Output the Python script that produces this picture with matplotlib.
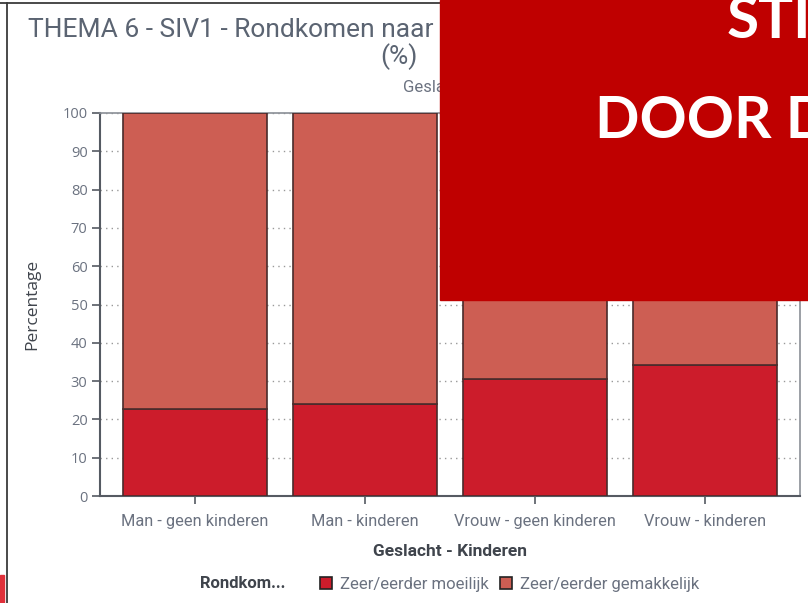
import matplotlib.pyplot as plt
from matplotlib.patches import Rectangle, Patch
import numpy as np

categories = ["Man - geen kinderen", "Man - kinderen", "Vrouw - geen kinderen", "Vrouw - kinderen"]
moeilijk = [22.7, 24.0, 30.6, 34.3]
gemakkelijk = [100 - v for v in moeilijk]
series_names = ["Zeer/eerder moeilijk", "Zeer/eerder gemakkelijk"]
yticks = list(range(0, 101, 10))

c_low = "#CC1C2B"
c_high = "#CD5E53"
edge = "#4a2b2b"
grey = "#6b7280"
dark = "#3f444c"

W, H = 808, 603
fig = plt.figure(figsize=(W / 100, H / 100), dpi=100)


def px(x, y):
    return x / W, 1 - y / H


ax = fig.add_axes([100 / W, 1 - 496 / H, 700 / W, 383 / H])
x = np.arange(len(categories))
ax.bar(x, moeilijk, width=0.847, color=c_low, edgecolor=edge, linewidth=1.2, zorder=3)
ax.bar(x, gemakkelijk, bottom=moeilijk, width=0.847, color=c_high, edgecolor=edge,
       linewidth=1.2, zorder=3)
ax.set_xlim(-0.559, 3.559)
ax.set_ylim(0, 100)
ax.set_yticks(yticks)
ax.yaxis.grid(True, linestyle=(0, (1, 3)), color="#999999", linewidth=1, zorder=0)
ax.set_xticks(x)
ax.set_xticklabels(categories, family="Roboto", fontsize=11.8, color=grey)
for lab in ax.get_yticklabels():
    lab.set_family("Open Sans")
    lab.set_fontsize(10.5)
    lab.set_color(grey)
ax.tick_params(axis="both", length=6, width=1.2, color="#555a62", pad=3)
ax.tick_params(axis="x", pad=7)
for s in ["top", "right"]:
    ax.spines[s].set_color("#8a8f96")
    ax.spines[s].set_linewidth(1.2)
for s in ["left", "bottom"]:
    ax.spines[s].set_color("#555a62")
    ax.spines[s].set_linewidth(1.5)
ax.set_ylabel("Percentage", family="Open Sans", fontsize=12.5, color=dark, labelpad=16)
ax.set_xlabel("Geslacht - Kinderen", family="Roboto", fontsize=12.5, fontweight="bold",
              color=dark, labelpad=11)

# title block
fig.text(*px(28, 30), "THEMA 6 - SIV1 - Rondkomen naar geslacht en kinderen",
         family="Roboto", fontsize=19, color="#5b6472", va="center", ha="left")
fig.text(*px(399, 57), "(%)", family="Roboto", fontsize=19, color="#5b6472",
         va="center", ha="center")
fig.text(*px(403, 87), "Geslacht - Kinderen", family="Roboto", fontsize=12,
         color=grey, va="center", ha="left")

# legend
handles = [Patch(facecolor=c_low, edgecolor="#222222", linewidth=1.2),
           Patch(facecolor=c_high, edgecolor="#222222", linewidth=1.2)]
fig.text(*px(200, 584), "Rondkom...", family="Roboto", fontsize=12,
         fontweight="bold", color=dark, va="center", ha="left")
leg = fig.legend(handles, series_names, loc="center left", bbox_to_anchor=px(305, 584),
                 frameon=False, ncol=2, handlelength=0.7, handleheight=0.7,
                 handletextpad=0.5, columnspacing=0.7,
                 prop={"family": "Roboto", "size": 12})
for t in leg.get_texts():
    t.set_color(grey)

# panel border lines
fig.add_artist(plt.Line2D([7 / W, 7 / W], [0, 1 - 3 / H], color="#3a3a3a", linewidth=1.3))
fig.add_artist(plt.Line2D([0, 1], [1 - 3 / H, 1 - 3 / H], color="#3a3a3a", linewidth=1.3))
fig.add_artist(Rectangle((0, 0), 4 / W, 28 / H, transform=fig.transFigure,
                         color="#e0303a", zorder=10))

# overlay banner
fig.add_artist(Rectangle((440 / W, 1 - 300 / H), 368 / W, 300 / H,
                         transform=fig.transFigure, color="#BF0000", zorder=20))
fig.text(*px(727, 22), "STI", family="Lato", fontweight="bold", fontsize=42,
         color="white", va="center", ha="left", zorder=21)
fig.text(*px(595, 122), "DOOR D", family="Lato", fontweight="bold", fontsize=42,
         color="white", va="center", ha="left", zorder=21)

fig.savefig("out.png", dpi=100)
